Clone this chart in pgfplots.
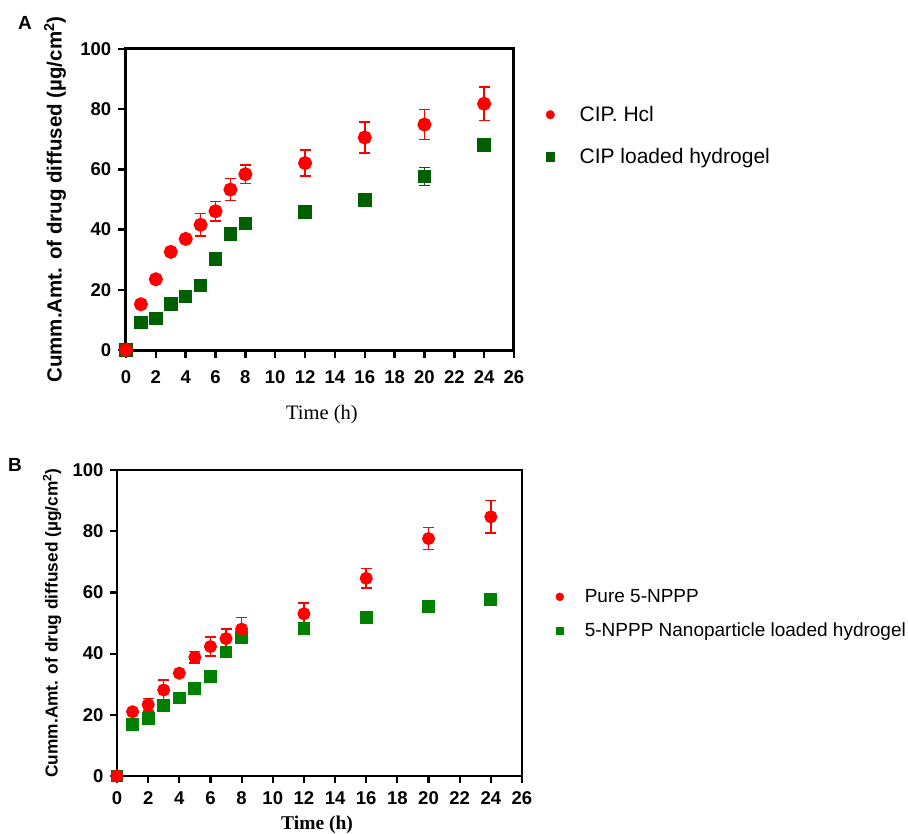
\documentclass[border=0pt]{standalone}
\usepackage{fontspec}
\setmainfont{Liberation Sans}
\newfontfamily\timesfont{Liberation Serif}
\usepackage{pgfplots}
\usepackage{pgfplotstable}
\pgfplotsset{compat=1.18}
\definecolor{cred}{RGB}{255,0,0}
\definecolor{gA}{RGB}{0,96,0}
\definecolor{gB}{RGB}{0,128,0}

\pgfplotstableread{
x y e
0 0 0
1 15.2 0
2 23.5 0
3 32.6 0
4 36.9 0
5 41.6 3.8
6 46.1 3.2
7 53.3 3.7
8 58.4 3.1
12 62.1 4.3
16 70.6 5.2
20 74.9 5.0
24 81.8 5.6
}\redA
\pgfplotstableread{
x y e
0 0 0
1 9.1 0
2 10.5 0
3 15.2 0
4 17.8 0
5 21.4 0
6 30.2 0
7 38.5 0
8 42.0 0
12 45.8 0
16 49.9 0
20 57.6 3.0
24 68.2 0
}\greenA
\pgfplotstableread{
x y e
0 0 0
1 21.0 0
2 23.3 2.1
3 28.1 3.3
4 33.6 0
5 38.8 1.9
6 42.3 3.1
7 44.9 3.1
8 48.0 3.8
12 53.0 3.6
16 64.6 3.2
20 77.6 3.6
24 84.7 5.3
}\redB
\pgfplotstableread{
x y e
0 0 0
1 16.9 0
2 18.9 0
3 23.0 0
4 25.5 0
5 28.5 0
6 32.4 0
7 40.5 0
8 45.3 0
12 48.2 0
16 51.7 1.0
20 55.3 0
24 57.7 1.0
}\greenB

\pgfplotsset{
  myaxis/.style={
    scale only axis,
    xmin=0, xmax=26, ymin=0, ymax=100,
    xtick={0,2,...,26}, ytick={0,20,...,100},
    tick pos=left, tick align=outside, major tick length=8pt,
    every tick/.style={line width=2.5pt, black},
    ticklabel style={font=\fontsize{18.5}{18.5}\selectfont\bfseries},
    /pgf/number format/assume math mode=true,
    clip=false,
    reverse legend,
    legend cell align=left,
    legend image code/.code={\draw[mark repeat=2,mark phase=2,##1] plot coordinates {(0pt,0pt)(5pt,0pt)(10pt,0pt)};},
  },
}

\begin{document}
\begin{tikzpicture}[x=1pt,y=1pt]
\useasboundingbox (0,0) rectangle (908,-834);
\node[font=\fontsize{19}{19}\selectfont\bfseries] at (25pt,-23pt) {A};
\node[font=\fontsize{19}{19}\selectfont\bfseries] at (15pt,-465pt) {B};

\begin{axis}[myaxis,
  at={(126pt,-350pt)}, anchor=south west, width=388pt, height=301pt,
  every axis/.append style={line width=3pt},
  axis line style={line width=3pt},
  xticklabel style={yshift=-8pt},
  yticklabel style={xshift=-2pt},
  ylabel={Cumm.Amt. of drug diffused (µg/cm\textsuperscript{2})},
  ylabel style={font=\fontsize{20.5}{20.5}\selectfont\bfseries, at={(axis description cs:-0.183,0.5)}, anchor=center},
  xlabel={Time (h)},
  xlabel style={font=\fontsize{20.5}{20.5}\selectfont\timesfont, at={(axis description cs:0.505,-0.216)}, anchor=center},
  legend style={at={(axis description cs:1.082,0.81)}, anchor=north west, draw=none, fill=none, inner sep=0pt,
    font=\fontsize{21}{21}\selectfont, row sep=25pt, line width=0.4pt,
    nodes={inner sep=0pt, anchor=west}, /tikz/every odd column/.append style={column sep=25pt}},
]
\addplot[only marks, mark=square*, mark size=5.3pt, color=gA,
  legend image post style={mark size=4.3pt},
  error bars/.cd, y dir=both, y explicit,
  error bar style={line width=1.5pt, gA},
  error mark options={rotate=90, mark size=5.5pt, line width=1.5pt, gA}]
  table[x=x, y=y, y error=e] {\greenA};
\addlegendentry{CIP loaded hydrogel}
\addplot[only marks, mark=*, mark size=5.5pt, color=cred,
  legend image post style={mark size=4.3pt},
  error bars/.cd, y dir=both, y explicit,
  error bar style={line width=1.5pt, cred},
  error mark options={rotate=90, mark size=5.5pt, line width=1.5pt, cred}]
  table[x=x, y=y, y error=e] {\redA};
\addlegendentry{CIP. Hcl}
\end{axis}

\begin{axis}[myaxis,
  at={(117pt,-776pt)}, anchor=south west, width=405pt, height=306pt,
  every axis/.append style={line width=2.4pt},
  axis line style={line width=2.4pt},
  every tick/.style={line width=2.2pt, black}, major tick length=7pt,
  xticklabel style={yshift=-4pt},
  yticklabel style={xshift=-2pt},
  ylabel={Cumm.Amt. of drug diffused (µg/cm\textsuperscript{2})},
  ylabel style={font=\fontsize{17.3}{17.3}\selectfont\bfseries, at={(axis description cs:-0.16,0.5)}, anchor=center},
  xlabel={Time (h)},
  xlabel style={font=\fontsize{19.5}{19.5}\selectfont\timesfont\bfseries, at={(axis description cs:0.494,-0.16)}, anchor=center},
  legend style={at={(axis description cs:1.083,0.61)}, anchor=north west, draw=none, fill=none, inner sep=0pt,
    font=\fontsize{19}{19}\selectfont, row sep=19pt, line width=0.4pt,
    nodes={inner sep=0pt, anchor=west}, /tikz/every odd column/.append style={column sep=21pt}},
]
\addplot[only marks, mark=square*, mark size=5.2pt, color=gB,
  legend image post style={mark size=3.8pt},
  error bars/.cd, y dir=both, y explicit,
  error bar style={line width=1.2pt, gB},
  error mark options={rotate=90, mark size=5pt, line width=1.2pt, gB}]
  table[x=x, y=y, y error=e] {\greenB};
\addlegendentry{5-NPPP Nanoparticle loaded hydrogel}
\addplot[only marks, mark=*, mark size=5.3pt, color=cred,
  legend image post style={mark size=4pt},
  error bars/.cd, y dir=both, y explicit,
  error bar style={line width=1.5pt, cred},
  error mark options={rotate=90, mark size=5.5pt, line width=1.5pt, cred}]
  table[x=x, y=y, y error=e] {\redB};
\addlegendentry{Pure 5-NPPP}
\end{axis}
\end{tikzpicture}
\end{document}
